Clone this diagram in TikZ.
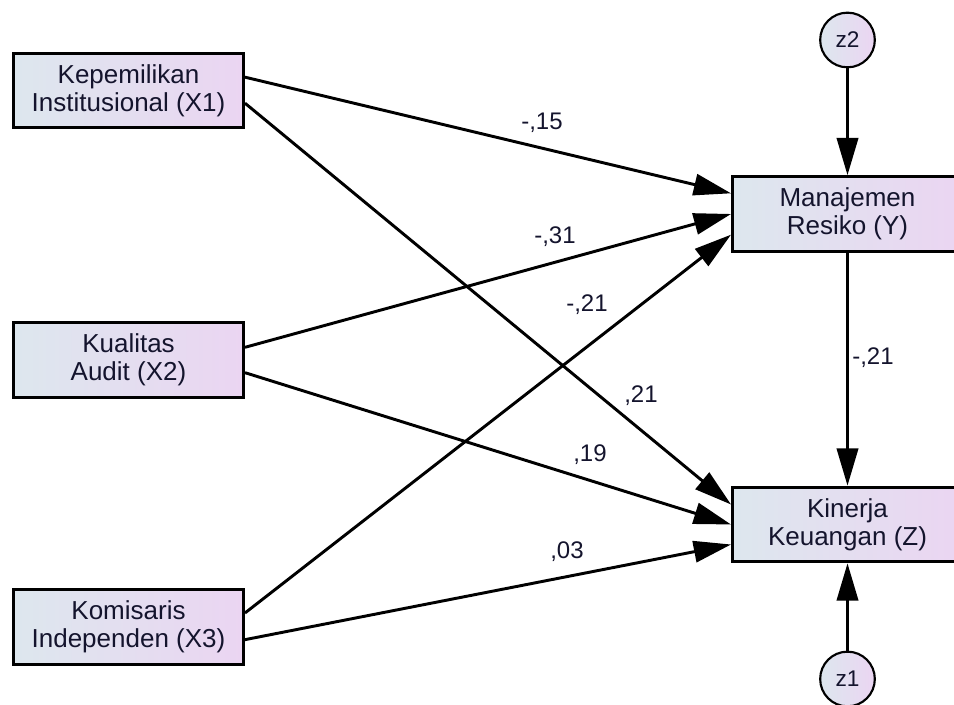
\documentclass[tikz,border=0pt]{standalone}
\usepackage{fontspec}
\setmainfont{Liberation Sans}
\usetikzlibrary{arrows.meta}
\definecolor{boxleft}{RGB}{221,231,238}
\definecolor{boxright}{RGB}{235,213,242}
\definecolor{inkc}{RGB}{20,20,45}
\tikzset{
  >={Triangle[length=28pt,width=16pt]},
  var/.style = {draw, line width=2.2pt, rectangle, left color=boxleft,
                right color=boxright, minimum width=172.5pt,
                minimum height=56pt, align=center, inner sep=0,
                text=inkc, font=\fontsize{19.5}{21}\selectfont},
  err/.style = {draw, line width=1.6pt, circle, left color=boxleft,
                right color=boxright, minimum size=41pt, inner sep=0,
                text=inkc, font=\fontsize{17}{19}\selectfont},
  reg/.style = {line width=2.2pt, ->},
  coef/.style = {inner sep=0, text=inkc, font=\fontsize{18}{20}\selectfont},
}
\begin{document}
\begin{tikzpicture}[x=0.75pt,y=-0.75pt]
\useasboundingbox (0,0) rectangle (954,705);
\clip (0,0) rectangle (954,705);
% variables
\node[var] (x1) at (128.5,90.5) {Kepemilikan\\Institusional (X1)};
\node[var] (x2) at (128.5,360) {Kualitas\\Audit (X2)};
\node[var] (x3) at (128.5,627) {Komisaris\\Independen (X3)};
\node[var] (y) at (847.5,214) {Manajemen\\Resiko (Y)};
\node[var] (z) at (847.5,524.5) {Kinerja\\Keuangan (Z)};
\node[err] (z2) at (847.5,40) {z2};
\node[err] (z1) at (847.5,679) {z1};
% paths
\draw[reg] ([yshift=10pt]x1.east) -- ([yshift=15.5pt]y.west);
\draw[reg] ([yshift=-9.5pt]x1.east) -- ([yshift=15pt]z.west);
\draw[reg] ([yshift=9.5pt]x2.east) -- (y.west);
\draw[reg] ([yshift=-9.5pt]x2.east) -- (z.west);
\draw[reg] ([yshift=10.5pt]x3.east) -- ([yshift=-15.5pt]y.west);
\draw[reg] ([yshift=-9.5pt]x3.east) -- ([yshift=-15pt]z.west);
\draw[reg] (y) -- (z);
\draw[reg] (z2) -- (y);
\draw[reg] (z1) -- (z);
% estimates
\node[coef] (b1) at (542,123) {-,15};
\node[coef] (b2) at (555,237) {-,31};
\node[coef] (b3) at (587,305) {-,21};
\node[coef] (b4) at (641,396) {,21};
\node[coef] (b5) at (590,455) {,19};
\node[coef] (b6) at (567,552) {,03};
\node[coef] (b7) at (873,358) {-,21};
\end{tikzpicture}
\end{document}
